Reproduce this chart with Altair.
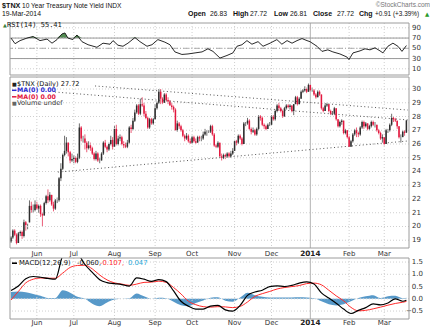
import altair as alt
import pandas as pd

# ---------------- data ----------------
month_labels = ["Jun", "Jul", "Aug", "Sep", "Oct", "Nov", "Dec", "2014", "Feb", "Mar"]
month_start_day = [14, 34, 56, 78, 98, 121, 141, 162, 183, 202]
price_ticks = [19, 20, 21, 22, 23, 24, 25, 26, 27, 28, 29, 30]
rsi_ticks = [10, 30, 50, 70, 90]
macd_ticks = [-0.5, 0.0, 0.5, 1.0, 1.5]

opens = [18.9, 19.2, 19.7, 19.4, 18.8, 19.5, 19.6, 19.3, 20.3, 20.1, 20.3, 21.5, 21.2, 21.2,
         21.6, 21.3, 21.5, 20.9, 20.8, 21.7, 22.2, 21.9, 22.3, 21.6, 21.3, 21.9, 21.9, 23.5, 24.2, 25.2, 25.5, 26.1, 25.4, 24.8,
         24.9, 25.0, 24.7, 25.0, 27.2, 26.4, 26.4, 26.1, 25.7, 25.9, 25.7, 25.3, 24.9, 25.3, 24.8, 24.8, 25.3, 26.1, 25.8, 25.6, 26.0, 26.3,
         25.8, 27.1, 26.0, 26.4, 26.5, 26.0, 25.9, 25.8, 26.1, 27.2, 27.1, 27.7, 28.3, 28.8, 28.2, 28.9, 28.8, 28.2, 27.9, 27.2, 27.8, 27.5,
         27.8, 28.6, 29.0, 29.8, 29.3, 29.0, 29.6, 29.2, 29.1, 28.8, 28.7, 28.5, 27.0, 27.5, 27.3, 27.0, 26.6, 26.4, 26.6, 26.2,
         26.1, 26.5, 26.2, 26.1, 26.5, 26.4, 26.4, 26.7, 26.9, 26.9, 26.9, 27.3, 26.7, 25.9, 25.8, 26.1, 25.1, 25.0, 25.2, 25.1, 25.3, 25.1, 25.3,
         25.5, 26.2, 26.1, 26.6, 26.4, 26.0, 27.5, 27.5, 27.7, 27.1, 26.9, 27.0, 26.7, 27.1, 28.0, 27.9, 27.4, 27.3, 27.1, 27.4,
         27.4, 28.0, 27.8, 28.4, 28.8, 28.6, 28.4, 28.0, 28.6, 28.8, 28.7, 28.8, 28.4, 28.9, 29.4, 28.9, 29.3, 29.8, 29.9, 30.0, 29.8,
         30.3, 29.9, 29.9, 29.6, 29.4, 29.8, 29.6, 28.6, 28.4, 28.8, 28.9, 28.4, 28.2, 28.2, 28.6, 27.8, 27.3, 27.6, 27.7, 26.8, 27.0,
         26.5, 25.8, 26.2, 26.7, 27.0, 26.8, 26.7, 27.2, 27.6, 27.3, 27.5, 27.1, 27.3, 27.6, 27.4, 27.4, 27.0, 26.8, 26.4,
         26.5, 26.0, 27.0, 27.0, 27.4, 27.9, 27.8, 27.7, 27.3, 26.5, 26.5, 26.9, 26.83]
highs = [19.3, 19.8, 19.8, 19.5, 19.6, 19.7, 19.7, 20.5, 20.4, 20.2, 21.9, 21.8, 21.6, 21.9,
         21.8, 21.6, 21.6, 21.0, 21.8, 22.3, 22.7, 22.5, 22.3, 21.8, 22.0, 22.1, 23.6, 24.6, 25.3, 26.6, 26.5, 26.1, 25.5, 25.3,
         25.2, 25.1, 25.3, 27.5, 27.3, 26.6, 26.7, 26.2, 26.2, 26.1, 25.8, 25.4, 25.5, 25.4, 25.0, 25.4, 26.2, 26.3, 25.9, 26.1, 26.6, 26.5,
         27.3, 27.4, 26.6, 26.7, 26.6, 26.2, 26.1, 26.3, 27.3, 27.4, 27.9, 28.5, 28.9, 28.9, 29.3, 29.4, 29.0, 28.4, 28.0, 27.9, 27.9, 27.9,
         28.9, 29.1, 30.0, 30.0, 29.4, 29.7, 29.7, 29.4, 29.2, 29.0, 28.8, 28.6, 27.7, 27.6, 27.4, 27.1, 26.7, 26.8, 26.7, 26.4,
         26.6, 26.6, 26.4, 26.6, 26.6, 26.6, 26.9, 27.1, 27.0, 27.0, 27.4, 27.4, 26.8, 26.0, 26.2, 26.1, 25.3, 25.3, 25.3, 25.4, 25.4, 25.5, 25.7,
         26.3, 26.3, 26.7, 26.7, 26.5, 27.6, 27.6, 27.9, 27.8, 27.2, 27.2, 27.1, 27.2, 28.1, 28.1, 28.0, 27.5, 27.4, 27.5, 27.6,
         28.1, 28.1, 28.5, 28.9, 29.0, 28.7, 28.5, 28.7, 28.9, 28.9, 28.9, 28.8, 28.9, 29.5, 29.5, 29.4, 29.9, 30.0, 30.2, 30.1, 30.4,
         30.3, 30.1, 30.0, 29.7, 29.9, 29.9, 29.6, 28.7, 28.9, 29.0, 28.9, 28.5, 28.4, 28.7, 28.6, 27.8, 27.7, 27.8, 27.7, 27.1, 27.0,
         26.6, 26.3, 26.8, 27.1, 27.2, 26.9, 27.3, 27.7, 27.7, 27.6, 27.5, 27.4, 27.7, 27.7, 27.6, 27.4, 27.1, 26.9, 26.7,
         26.5, 27.1, 27.1, 27.5, 28.2, 28.0, 27.9, 27.7, 27.3, 26.7, 27.0, 27.0, 27.72]
lows = [18.8, 19.1, 19.3, 18.7, 18.8, 19.3, 19.1, 19.2, 19.7, 19.8, 20.3, 21.0, 21.0, 21.1,
        21.2, 21.0, 20.7, 20.0, 20.8, 21.6, 21.7, 21.8, 21.5, 21.1, 21.2, 21.7, 21.8, 23.3, 24.1, 25.1, 25.3, 25.1, 24.6, 24.7,
        24.6, 24.6, 24.6, 24.9, 26.2, 26.1, 25.6, 25.4, 25.6, 25.5, 25.2, 24.8, 24.8, 24.7, 24.6, 24.8, 25.2, 25.7, 25.4, 25.5, 25.9, 25.6,
        25.8, 25.9, 25.9, 26.2, 25.9, 25.7, 25.7, 25.7, 26.0, 26.8, 27.0, 27.6, 28.2, 28.1, 28.1, 28.7, 28.0, 27.8, 27.1, 27.1, 27.4, 27.4,
        27.8, 28.5, 28.9, 28.9, 28.9, 29.0, 29.1, 28.9, 28.8, 28.5, 28.3, 27.0, 26.9, 27.1, 26.9, 26.5, 26.2, 26.3, 26.1, 26.0,
        26.0, 26.1, 26.0, 26.1, 26.2, 26.2, 26.3, 26.6, 26.6, 26.8, 26.8, 26.6, 25.8, 25.7, 25.7, 25.0, 24.8, 24.9, 24.9, 25.0, 25.0, 25.0, 25.2,
        25.5, 25.9, 26.0, 26.3, 25.9, 26.0, 27.3, 27.4, 27.0, 26.7, 26.8, 26.6, 26.6, 27.0, 27.7, 27.3, 27.1, 27.0, 27.1, 27.3,
        27.4, 27.7, 27.7, 28.3, 28.4, 28.3, 27.9, 28.0, 28.5, 28.6, 28.5, 28.3, 28.1, 28.9, 28.8, 28.9, 29.3, 29.7, 29.8, 29.7, 29.8,
        29.8, 29.8, 29.5, 29.3, 29.4, 29.5, 28.5, 28.3, 28.4, 28.7, 28.3, 28.1, 28.1, 28.1, 27.7, 27.2, 27.2, 27.4, 26.7, 26.7, 26.4,
        25.8, 25.8, 26.1, 26.6, 26.5, 26.5, 26.6, 27.1, 27.1, 27.2, 27.0, 27.0, 27.2, 27.3, 27.2, 26.9, 26.7, 26.3, 26.1,
        25.9, 26.0, 26.8, 26.9, 27.3, 27.6, 27.6, 27.1, 26.4, 26.1, 26.5, 26.6, 26.81]
closes = [19.2, 19.7, 19.4, 18.8, 19.5, 19.6, 19.3, 20.3, 20.1, 20.1, 21.5, 21.2, 21.2, 21.6,
          21.3, 21.5, 20.9, 20.8, 21.7, 22.2, 21.9, 22.3, 21.6, 21.3, 21.9, 21.9, 23.5, 24.2, 25.2, 25.5, 26.1, 25.4, 24.8, 24.9,
          25.0, 24.7, 25.0, 27.2, 26.4, 26.4, 26.1, 25.7, 25.9, 25.7, 25.3, 24.9, 25.3, 24.8, 24.8, 25.3, 26.1, 25.8, 25.6, 26.0, 26.3, 25.8,
          27.1, 26.0, 26.4, 26.5, 26.0, 25.9, 25.8, 26.1, 27.2, 27.1, 27.7, 28.3, 28.8, 28.2, 28.9, 28.8, 28.2, 27.9, 27.2, 27.8, 27.5, 27.8,
          28.6, 29.0, 29.8, 29.3, 29.0, 29.6, 29.2, 29.1, 28.8, 28.7, 28.5, 27.0, 27.5, 27.3, 27.0, 26.6, 26.4, 26.6, 26.2, 26.1,
          26.5, 26.2, 26.1, 26.5, 26.4, 26.4, 26.7, 26.9, 26.9, 26.9, 27.3, 26.7, 25.9, 25.8, 26.1, 25.1, 25.0, 25.2, 25.1, 25.3, 25.1, 25.3, 25.5,
          26.2, 26.1, 26.6, 26.4, 26.0, 27.5, 27.5, 27.7, 27.1, 26.9, 27.0, 26.7, 27.1, 28.0, 27.9, 27.4, 27.3, 27.1, 27.4, 27.4,
          28.0, 27.8, 28.4, 28.8, 28.6, 28.4, 28.0, 28.6, 28.8, 28.7, 28.8, 28.4, 28.9, 29.4, 28.9, 29.3, 29.8, 29.9, 30.0, 29.8, 30.3,
          29.9, 29.9, 29.6, 29.4, 29.8, 29.6, 28.6, 28.4, 28.8, 28.9, 28.4, 28.2, 28.2, 28.6, 27.8, 27.3, 27.6, 27.7, 26.8, 27.0, 26.5,
          25.8, 26.2, 26.7, 27.0, 26.8, 26.7, 27.2, 27.6, 27.3, 27.5, 27.1, 27.3, 27.6, 27.4, 27.4, 27.0, 26.8, 26.4, 26.5,
          26.0, 27.0, 27.0, 27.4, 27.9, 27.8, 27.7, 27.3, 26.5, 26.5, 26.9, 26.81, 27.72]

rsi_day = [0, 2.2, 4.9, 8.7, 11.9, 15.7, 19.5, 22.2, 24.9, 27.6, 29.2, 30.8, 33.5, 35.7, 38.4, 41.7,
           46.5, 49.8, 53.6, 55.2, 57.9, 60.6, 63.3, 67.1, 69.8, 73.6, 76.3, 79.5, 83.3, 86.0, 88.7,
           92.5, 95.8, 99.6, 103.4, 106.6, 109.3, 113.1, 116.9, 120.1, 122.3, 125.0, 127.7, 130.4,
           133.7, 136.4, 140.2, 143.9, 146.6, 149.4, 152.1, 154.8, 157.5, 160.2, 161.8, 165.6, 168.3,
           171.5, 174.2, 178.0, 181.8, 182.9, 185.1, 188.9, 191.6, 194.3, 197.0, 199.7, 201.3, 204.0,
           206.7, 209.4, 211.6, 214]
rsi_val = [70, 59, 65, 70, 73, 65, 68, 60, 67, 78, 80, 70, 67, 76, 63, 57,
           52, 60, 58, 65, 56, 54, 60, 71, 63, 54, 57, 67, 62, 57, 43,
           38, 39, 41, 43, 49, 44, 31, 36, 41, 54, 57, 65, 58,
           63, 54, 60, 67, 58, 65, 60, 65, 69, 65, 63, 54, 44,
           47, 43, 39, 33, 28, 41, 45, 49, 47, 51, 45, 41, 54,
           60, 54, 44, 55.41]

macd_day = [0, 4, 8, 12, 16, 20, 24, 28, 32, 36, 40, 44, 48, 52, 56, 60, 64, 68, 72, 76,
            80, 84, 88, 92, 96, 100, 104, 108, 112, 116, 120, 124, 128, 132, 136, 140, 144, 148,
            152, 156, 160, 164, 168, 172, 176, 180, 184, 188, 192, 196, 200, 204, 208, 212, 214]
macd_val = [0.34, 0.52, 0.82, 0.91, 0.88, 0.83, 0.80, 1.75, 1.95, 1.85, 1.40, 1.08, 0.78, 0.66, 0.62, 0.58, 0.52, 0.85, 0.80, 0.71,
            0.78, 0.70, 0.32, -0.10, -0.30, -0.42, -0.42, -0.30, -0.27, -0.45, -0.50, -0.27, 0.14, 0.28, 0.35, 0.50, 0.53, 0.50,
            0.55, 0.64, 0.69, 0.60, 0.24, 0.03, -0.18, -0.42, -0.60, -0.47, -0.36, -0.21, -0.25, -0.17, 0.00, -0.10, -0.06]
signal_val = [-0.05, 0.30, 0.65, 0.80, 0.85, 0.84, 0.84, 1.05, 1.28, 1.36, 1.37, 1.22, 0.97, 0.77, 0.65, 0.60, 0.55, 0.60, 0.67, 0.68,
              0.72, 0.67, 0.46, 0.20, -0.10, -0.24, -0.32, -0.34, -0.32, -0.33, -0.36, -0.31, -0.13, 0.10, 0.21, 0.30, 0.40, 0.46,
              0.50, 0.54, 0.62, 0.64, 0.57, 0.35, 0.12, -0.08, -0.35, -0.49, -0.47, -0.41, -0.34, -0.26, -0.19, -0.14, -0.107]
hist_val = [0.28, 0.30, 0.27, 0.20, 0.12, 0.03, 0.03, 0.35, 0.25, 0.08, 0.00, -0.20, -0.30, -0.15, -0.03, 0.00, 0.02, 0.22, 0.10, 0.00,
            0.04, 0.02, -0.12, -0.26, -0.30, -0.17, -0.07, 0.04, 0.06, -0.08, -0.12, 0.05, 0.25, 0.15, 0.08, 0.05, 0.05, 0.05,
            0.05, 0.06, 0.05, 0.02, -0.10, -0.22, -0.27, -0.22, -0.10, 0.03, 0.10, 0.15, 0.03, 0.10, 0.12, 0.02, 0.047]

trend_a_day = [25.4, 214.8]
trend_a_val = [23.96, 26.22]
trend_b_day = [45.5, 214.8]
trend_b_val = [30.22, 28.47]
trend_c_day = [23.8, 214.8]
trend_c_val = [29.78, 27.75]

# ---------------- styling / layout ----------------
W = 399
H_RSI, H_MAIN, H_MACD = 52, 171, 61
GAP = 8.5
FONT = "DejaVu Sans"
HFONT = "Liberation Sans"
GRID = "#cfcfcf"
BORDER = "#9c9c9c"
UP, DOWN = "#2e2e2e", "#e3173e"
YEAR = "2014"

XS = alt.Scale(domain=[-0.54, 215.4], nice=False, zero=False)
RSI_Y = alt.Scale(domain=[-2.1, 99.4], nice=False, zero=False)
PRICE_Y = alt.Scale(domain=[18.436, 30.873], nice=False, zero=False)
MACD_Y = alt.Scale(domain=[-0.824, 1.665], nice=False, zero=False)

ONE = pd.DataFrame({"k": [0]})
months = pd.DataFrame({"d": month_start_day, "m": month_labels})
NOT_YEAR = "datum.m != '%s'" % YEAR
IS_YEAR = "datum.m == '%s'" % YEAR


def xq(field):
    return alt.X(field, scale=XS, axis=None)


def month_grid():
    dotted = alt.Chart(months).transform_filter(NOT_YEAR).mark_rule(
        color=GRID, strokeWidth=1, strokeDash=[1, 2]).encode(x=xq("d:Q"))
    solid = alt.Chart(months).transform_filter(IS_YEAR).mark_rule(
        color="#b4b4b4", strokeWidth=1).encode(x=xq("d:Q"))
    return [dotted, solid]


def month_text(y):
    normal = alt.Chart(months).transform_filter(NOT_YEAR).mark_text(
        fontSize=7, font=FONT, color="#333", baseline="middle").encode(
        x=xq("d:Q"), y=alt.value(y), text="m:N")
    bold = alt.Chart(months).transform_filter(IS_YEAR).mark_text(
        fontSize=7.3, font=FONT, color="#222", fontWeight="bold", baseline="middle").encode(
        x=xq("d:Q"), y=alt.value(y), text="m:N")
    return [normal, bold]


def value_grid(ticks, scale):
    return alt.Chart(pd.DataFrame({"v": ticks})).mark_rule(
        color=GRID, strokeWidth=1, strokeDash=[1, 2]).encode(
        y=alt.Y("v:Q", scale=scale, axis=None))


def value_labels(ticks, scale, fmt="d", x=W + 3, align="left"):
    return alt.Chart(pd.DataFrame({"v": ticks})).mark_text(
        fontSize=7, font=FONT, color="#333", align=align, baseline="middle").encode(
        y=alt.Y("v:Q", scale=scale, axis=None), x=alt.value(x),
        text=alt.Text("v:Q", format=fmt))


def txt(s, x, y, size=7, color="#111", weight="normal", align="left", font=FONT):
    return alt.Chart(ONE).mark_text(text=s, fontSize=size, color=color, fontWeight=weight,
                                    align=align, baseline="middle", font=font).encode(
        x=alt.value(x), y=alt.value(y))


def swatch(x1, x2, y, color, width=1.5):
    return alt.Chart(ONE).mark_rule(color=color, strokeWidth=width).encode(
        x=alt.value(x1), x2=alt.value(x2), y=alt.value(y))


def marker(y):
    return alt.Chart(ONE).mark_rule(strokeWidth=0, opacity=0).encode(
        x=alt.value(-10), x2=alt.value(-10), y=alt.value(y), y2=alt.value(y))


def frame(h):
    return alt.Chart(ONE).mark_rect(fillOpacity=0, stroke=BORDER, strokeWidth=1).encode(
        x=alt.value(0), x2=alt.value(W), y=alt.value(0), y2=alt.value(h))


# ---------------- tables ----------------
n = len(closes)
prev_close = [opens[0]] + closes[:-1]
candles = pd.DataFrame({
    "day": list(range(n)), "open": opens, "high": highs, "low": lows, "close": closes,
    "dir": ["up" if c >= p else "down" for c, p in zip(closes, prev_close)],
})
rsi_df = pd.DataFrame({"day": rsi_day, "rsi": rsi_val})
macd_df = pd.DataFrame({"day": macd_day, "macd": macd_val, "signal": signal_val, "hist": hist_val})
trend_df = pd.concat([
    pd.DataFrame({"day": trend_a_day, "val": trend_a_val, "line": "A"}),
    pd.DataFrame({"day": trend_b_day, "val": trend_b_val, "line": "B"}),
    pd.DataFrame({"day": trend_c_day, "val": trend_c_val, "line": "C"}),
])
rsi_levels = pd.DataFrame({"lvl": [70, 30]})
rsi_mid = pd.DataFrame({"lvl": [50]})

col = alt.Color("dir:N", scale=alt.Scale(domain=["up", "down"], range=[UP, DOWN]), legend=None)

# ---------------- RSI panel ----------------
rsi_fill = alt.Chart(rsi_df).transform_calculate(
    top="max(datum.rsi, 70)", base="70").mark_area(color="#3f7f3f", opacity=0.9).encode(
    x=xq("day:Q"), y=alt.Y("top:Q", scale=RSI_Y, axis=None), y2="base:Q")
rsi_line = alt.Chart(rsi_df).mark_line(color="#111", strokeWidth=0.9).encode(
    x=xq("day:Q"), y=alt.Y("rsi:Q", scale=RSI_Y, axis=None))
r_levels = alt.Chart(rsi_levels).mark_rule(color="#9a9a9a", strokeWidth=1).encode(
    y=alt.Y("lvl:Q", scale=RSI_Y, axis=None))
r_mid = alt.Chart(rsi_mid).mark_rule(color="#9a9a9a", strokeWidth=0.8, strokeDash=[6, 2, 1, 2]).encode(
    y=alt.Y("lvl:Q", scale=RSI_Y, axis=None))

header = [
    marker(-23),
    txt("$TNX", -8, -17.5, size=7.2, weight="bold", font=HFONT),
    txt("10 Year Treasury Note Yield INDX", 12, -17.5, size=6.6, font=HFONT),
    txt("©StockCharts.com", 420, -18, size=6.5, color="#777", align="right", font=HFONT),
    txt("19-Mar-2014", -8, -8.8, size=6.8, font=HFONT),
    txt("Open", 178, -8.8, size=7, weight="bold", font=HFONT),
    txt("26.83", 200, -8.8, size=6.8, font=HFONT),
    txt("High", 223, -8.8, size=7, weight="bold", font=HFONT),
    txt("27.72", 240, -8.8, size=6.8, font=HFONT),
    txt("Low", 264, -8.8, size=7, weight="bold", font=HFONT),
    txt("26.81", 280, -8.8, size=6.8, font=HFONT),
    txt("Close", 303, -8.8, size=7, weight="bold", font=HFONT),
    txt("27.72", 327, -8.8, size=6.8, font=HFONT),
    txt("Chg", 349, -8.8, size=7, weight="bold", font=HFONT),
    txt("+0.91 (+3.39%)", 365, -8.8, size=6.4, font=HFONT),
    txt("▲", 415, -8.8, size=5.5, color="#2a9a2a"),
    txt("▲", -7, 1.8, size=5, color="#3f7f3f"),
    txt("RSI(14) 55.41", -3, 1.8, size=7, font="DejaVu Sans Mono"),
]
rsi_panel = alt.layer(
    rsi_fill, *month_grid(), value_grid(rsi_ticks, RSI_Y), r_levels, r_mid, rsi_line,
    value_labels(rsi_ticks, RSI_Y), frame(H_RSI), *header
).properties(width=W, height=H_RSI)

# ---------------- price panel ----------------
trend = alt.Chart(trend_df).mark_line(color="#555", strokeWidth=1, strokeDash=[1, 2.6]).encode(
    x=xq("day:Q"), y=alt.Y("val:Q", scale=PRICE_Y, axis=None), detail="line:N")
wick = alt.Chart(candles).mark_rule(strokeWidth=0.7).encode(
    x=xq("day:Q"), y=alt.Y("low:Q", scale=PRICE_Y, axis=None), y2="high:Q", color=col)
body = alt.Chart(candles).mark_rule(strokeWidth=1.5).encode(
    x=xq("day:Q"), y=alt.Y("open:Q", scale=PRICE_Y, axis=None), y2="close:Q", color=col)
legend_main = [
    marker(5),
    txt("■", 2, 6.5, size=5, color="#222"),
    txt("$TNX (Daily) 27.72", 7, 6.5, size=6.6),
    swatch(2, 6.5, 13.3, "#2b2bd0"),
    txt("MA(0) 0.00", 7, 13.3, size=6.3, color="#2b2bd0", weight="bold"),
    swatch(2, 6.5, 19.8, DOWN),
    txt("MA(0) 0.00", 7, 19.8, size=6.3, color=DOWN, weight="bold"),
    txt("■", 2, 26.3, size=5, color="#666"),
    txt("Volume undef", 7, 26.3, size=6.6, color="#333"),
]
main_panel = alt.layer(
    wick, *month_grid(), value_grid(price_ticks, PRICE_Y), trend, body,
    value_labels(price_ticks, PRICE_Y), frame(H_MAIN), *legend_main
).properties(width=W, height=H_MAIN)

# ---------------- MACD panel (month labels above and below) ----------------
hist = alt.Chart(macd_df).transform_calculate(zero="0").mark_area(
    color="#3a87c0", opacity=0.85, interpolate="monotone").encode(
    x=xq("day:Q"), y=alt.Y("hist:Q", scale=MACD_Y, axis=None), y2="zero:Q")
sig = alt.Chart(macd_df).mark_line(color="#ff2a2a", strokeWidth=1, interpolate="monotone", clip=True).encode(
    x=xq("day:Q"), y=alt.Y("signal:Q", scale=MACD_Y, axis=None))
mac = alt.Chart(macd_df).mark_line(color="#000", strokeWidth=1.2, interpolate="monotone", clip=True).encode(
    x=xq("day:Q"), y=alt.Y("macd:Q", scale=MACD_Y, axis=None))
legend_macd = [
    marker(-GAP),
    swatch(2, 7, 5.2, "#000", 1.6),
    txt("MACD(12,26,9)", 9, 5.2, size=6.8),
    txt("-0.060,", 67, 5.2, size=6.8),
    txt("-0.107,", 90, 5.2, size=6.8, color="#ff2a2a"),
    txt("0.047", 118, 5.2, size=6.8, color="#2aa8d8"),
]
macd_panel = alt.layer(
    hist, *month_grid(), value_grid(macd_ticks, MACD_Y), sig, mac,
    value_labels(macd_ticks, MACD_Y, fmt=".1f", x=W + 14, align="right"),
    *month_text(-4.0), *month_text(H_MACD + 3.8), frame(H_MACD), *legend_macd
).properties(width=W, height=H_MACD)

chart = alt.vconcat(rsi_panel, main_panel, macd_panel, spacing=0).properties(
    padding=0, background="white"
).configure_view(stroke=None)

chart.save("out.html", embed_options={"renderer": "svg", "actions": False})
